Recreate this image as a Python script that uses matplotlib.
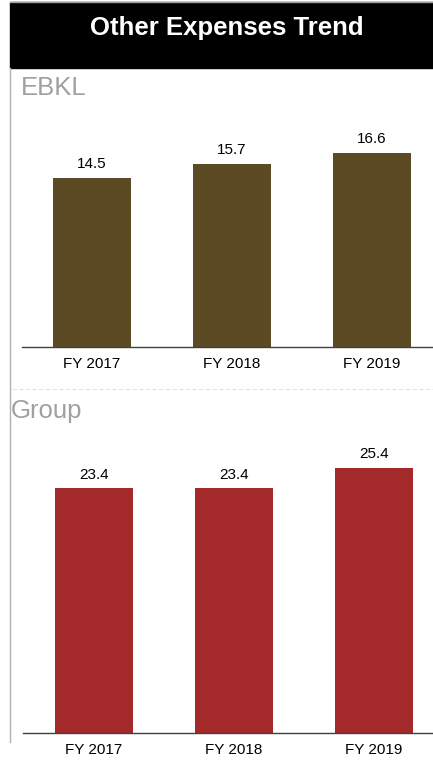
import matplotlib.pyplot as plt
from matplotlib.patches import Rectangle
from matplotlib.lines import Line2D

years = ['FY 2017', 'FY 2018', 'FY 2019']
ebkl = [14.5, 15.7, 16.6]
group = [23.4, 23.4, 25.4]

W, H = 433, 775
fig = plt.figure(figsize=(W / 100, H / 100), dpi=100)
plt.rcParams['font.family'] = ['Liberation Sans', 'DejaVu Sans']


def px(x0, y0, x1, y1):
    # pixel box (top-left origin) -> figure fraction rect
    return [x0 / W, 1 - y1 / H, (x1 - x0) / W, (y1 - y0) / H]


# header band and frame
fig.patches.append(Rectangle((10 / W, 1 - 68 / H), (W - 10) / W, 66 / H,
                             transform=fig.transFigure, color='black'))
fig.lines.append(Line2D([10 / W, 1], [1 - 1.5 / H, 1 - 1.5 / H],
                        transform=fig.transFigure, color='#a0a0a0', lw=1))
fig.lines.append(Line2D([10 / W, 10 / W], [1 - 68 / H, 1 - 742 / H],
                        transform=fig.transFigure, color='#b0b0b0', lw=1))
fig.text(227 / W, 1 - 28 / H, 'Other Expenses Trend', color='white',
         fontsize=18.5, fontweight='bold', ha='center', va='center')

# dashed separator
fig.lines.append(Line2D([12 / W, 1], [1 - 389 / H, 1 - 389 / H],
                        transform=fig.transFigure, color='#dfe8d0', lw=0.8,
                        linestyle=(0, (4, 2))))

fig.text(21 / W, 1 - 88 / H, 'EBKL', color='#a0a0a0', fontsize=18.5, va='center')
fig.text(11 / W, 1 - 411 / H, 'Group', color='#a0a0a0', fontsize=18.5, va='center')


def bar_panel(rect, values, color, ytop, xlim):
    ax = fig.add_axes(rect)
    x = range(len(values))
    bars = ax.bar(x, values, width=0.557, color=color)
    for b, v in zip(bars, values):
        ax.text(b.get_x() + b.get_width() / 2, v + 0.6, f'{v:.1f}',
                ha='center', va='bottom', fontsize=11, color='black')
    ax.set_ylim(0, ytop)
    ax.set_xlim(*xlim)
    ax.set_xticks(list(x))
    ax.set_xticklabels(years, fontsize=11)
    ax.tick_params(axis='x', length=0, pad=7)
    ax.set_yticks([])
    for s in ['top', 'right', 'left']:
        ax.spines[s].set_visible(False)
    ax.spines['bottom'].set_color('#404040')
    ax.spines['bottom'].set_linewidth(1)
    ax.patch.set_alpha(0)
    return ax


bar_panel(px(22, 100, 433, 347), ebkl, '#5c4a24', 247 / 11.66, (-0.5, 2.436))
bar_panel(px(23, 430, 433, 733), group, '#a4292a', 303 / 10.45, (-0.507, 2.421))

fig.savefig('out.png', dpi=100)
